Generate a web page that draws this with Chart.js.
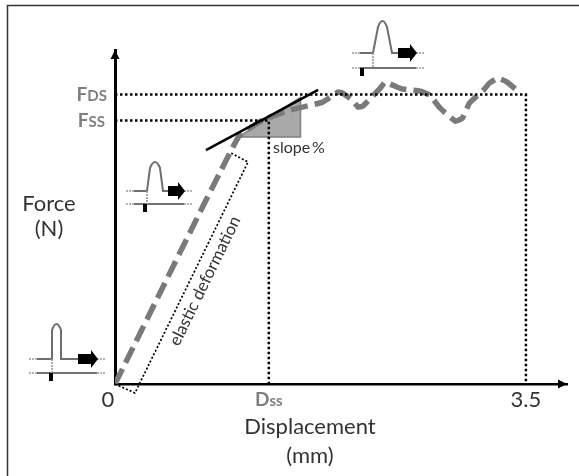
<!DOCTYPE html>
<html>
<head>
<meta charset="utf-8">
<title>Force vs displacement</title>
<script src="https://cdn.jsdelivr.net/npm/chart.js@4/dist/chart.umd.min.js"></script>
<style>
  html, body { margin: 0; padding: 0; background: #fff; }
  canvas { display: block; }
</style>
</head>
<body>
<canvas id="grafica" width="579" height="476"></canvas>
<script>
// Values (x in mm, force normalised to FDS = 1)
const Dss = 1.31;
const Dmax = 3.5;
const FDS = 1;
const FSS = 0.91;

const curveX = [0, 1.05, 1.26, 1.49, 1.77, 1.9, 1.94, 2.02, 2.07, 2.11, 2.26, 2.3, 2.4, 2.45, 2.6, 2.68, 2.77, 2.9, 2.96, 3.02, 3.14, 3.19, 3.26, 3.34, 3.45];
const curveY = [0, 0.853, 0.912, 0.946, 0.974, 1.009, 1.005, 0.981, 0.957, 0.96, 1.022, 1.043, 1.026, 1.019, 1.012, 0.998, 0.953, 0.908, 0.919, 0.971, 1.016, 1.04, 1.057, 1.043, 1.005];

const tangentX = [0.775, 1.73];
const tangentY = [0.808, 1.016];

const slopeX = [1.05, 1.58, 1.58, 1.05];
const slopeY = [0.853, 0.853, 0.99, 0.853];

const elasticX = [0, 0.17, 1.133, 0.988];
const elasticY = [0, -0.031, 0.767, 0.798];

const xTicks = [0, Dss, Dmax];
const xTickLabels = ['0', 'Dss', '3.5'];
const yTicks = [FSS, FDS];

function puntos(xs, ys) {
  return xs.map((x, i) => ({ x: x, y: ys[i] }));
}

// Small pulse sketch: baseline, bump, arrow and the lower marker line
function dibujarPulso(ctx, x0, x1, yBase, yLow, pulseL, pulseR, pulseTop, tickX, arrowL, arrowR, neck) {
  ctx.save();
  ctx.strokeStyle = '#6e6e6e';
  ctx.lineWidth = 2;
  ctx.beginPath();
  ctx.moveTo(x0 + 8, yBase);
  ctx.lineTo(pulseL, yBase);
  ctx.lineTo(pulseL + neck, pulseTop + 6);
  ctx.quadraticCurveTo((pulseL + pulseR) / 2, pulseTop - 6, pulseR - neck, pulseTop + 6);
  ctx.lineTo(pulseR, yBase);
  ctx.lineTo(arrowL, yBase);
  ctx.stroke();

  ctx.strokeStyle = '#444';
  ctx.lineWidth = 1.6;
  ctx.beginPath();
  ctx.moveTo(x0 + 8, yLow);
  ctx.lineTo(x1 - 8, yLow);
  ctx.stroke();

  // faded line ends
  ctx.strokeStyle = '#999';
  ctx.setLineDash([2, 1]);
  ctx.beginPath();
  ctx.moveTo(x0, yBase); ctx.lineTo(x0 + 8, yBase);
  ctx.moveTo(x1 - 8, yBase); ctx.lineTo(x1, yBase);
  ctx.moveTo(x0, yLow); ctx.lineTo(x0 + 8, yLow);
  ctx.moveTo(x1 - 8, yLow); ctx.lineTo(x1, yLow);
  ctx.moveTo(pulseL, yBase); ctx.lineTo(pulseL, yLow);
  ctx.stroke();
  ctx.setLineDash([]);

  ctx.fillStyle = '#000';
  ctx.fillRect(tickX - 2, yLow, 4, 8);

  // block arrow
  const mid = arrowR - 7;
  ctx.beginPath();
  ctx.moveTo(arrowL, yBase - 5);
  ctx.lineTo(mid, yBase - 5);
  ctx.lineTo(mid, yBase - 9);
  ctx.lineTo(arrowR, yBase);
  ctx.lineTo(mid, yBase + 9);
  ctx.lineTo(mid, yBase + 5);
  ctx.lineTo(arrowL, yBase + 5);
  ctx.closePath();
  ctx.fill();
  ctx.restore();
}

// Label with a big first letter and a smaller rest (FDS, FSS, Dss)
function dibujarEtiqueta(ctx, grande, chica, x, y, align) {
  ctx.save();
  ctx.fillStyle = '#7f7f7f';
  ctx.textBaseline = 'alphabetic';
  ctx.textAlign = 'left';
  ctx.font = 'bold 19px Lato';
  const w1 = ctx.measureText(grande).width;
  ctx.font = 'bold 15px Lato';
  const w2 = ctx.measureText(chica).width;
  const inicio = align === 'right' ? x - w1 - w2 : x - (w1 + w2) / 2;
  ctx.font = 'bold 19px Lato';
  ctx.fillText(grande, inicio, y + 6);
  ctx.font = 'bold 15px Lato';
  ctx.fillText(chica, inicio + w1, y + 6);
  ctx.restore();
}

const extras = {
  id: 'extras',
  afterDraw(chart) {
    const ctx = chart.ctx;
    const sx = chart.scales.x;
    const sy = chart.scales.y;
    const x0 = sx.getPixelForValue(0);
    const y0 = sy.getPixelForValue(0);

    // outer frame, open to the right and bottom of the window
    ctx.save();
    ctx.strokeStyle = '#333';
    ctx.lineWidth = 1.5;
    ctx.strokeRect(7.5, 5.5, 640, 600);

    // axis arrow heads
    ctx.fillStyle = '#000';
    ctx.beginPath();
    ctx.moveTo(x0, sy.top);
    ctx.lineTo(x0 - 4.5, sy.top + 9);
    ctx.lineTo(x0 + 4.5, sy.top + 9);
    ctx.closePath();
    ctx.fill();
    ctx.beginPath();
    ctx.moveTo(sx.right, y0);
    ctx.lineTo(sx.right - 9, y0 - 4.5);
    ctx.lineTo(sx.right - 9, y0 + 4.5);
    ctx.closePath();
    ctx.fill();

    // texts
    ctx.fillStyle = '#333';
    ctx.textAlign = 'center';
    ctx.textBaseline = 'middle';
    ctx.font = '22px Lato';
    ctx.fillText('Force', 49, 204);
    ctx.fillText('(N)', 49, 229);
    ctx.fillText('Displacement', 310, 427);
    ctx.fillText('(mm)', 310, 456);

    // tick labels 0 and 3.5
    ctx.fillText(xTickLabels[0], sx.getPixelForValue(xTicks[0]) - 7, 400);
    ctx.fillText(xTickLabels[2], sx.getPixelForValue(xTicks[2]), 400);

    ctx.font = '16px Lato';
    ctx.textAlign = 'left';
    ctx.fillText('slope', 273, 148);
    ctx.fillText('%', 312, 148);

    ctx.save();
    ctx.translate(205, 281);
    ctx.rotate(-64 * Math.PI / 180);
    ctx.textAlign = 'center';
    ctx.font = '16.8px Lato';
    ctx.fillText('elastic deformation', 0, 0);
    ctx.restore();
    ctx.restore();

    dibujarEtiqueta(ctx, 'F', 'DS', 107, sy.getPixelForValue(FDS), 'right');
    dibujarEtiqueta(ctx, 'F', 'SS', 105, sy.getPixelForValue(FSS), 'right');
    dibujarEtiqueta(ctx, 'D', 'ss', sx.getPixelForValue(Dss), 400, 'center');

    dibujarPulso(ctx, 29, 105, 359, 373, 52, 61, 324, 51, 78, 98, 0);
    dibujarPulso(ctx, 126, 192, 191, 204, 147, 163, 162, 145, 168, 185, 3);
    dibujarPulso(ctx, 352, 424, 53, 68, 373, 392, 21, 362, 398, 417, 5);
  }
};

new Chart(document.getElementById('grafica'), {
  type: 'scatter',
  data: {
    datasets: [
      {
        // grey triangle under the tangent
        data: puntos(slopeX, slopeY),
        showLine: true,
        pointRadius: 0,
        borderColor: '#7f7f7f',
        borderWidth: 1.5,
        backgroundColor: '#a9a9a9',
        fill: 'shape',
        order: 5
      },
      {
        // force curve
        data: puntos(curveX, curveY),
        showLine: true,
        pointRadius: 0,
        borderColor: '#7a7a7a',
        borderWidth: 5.5,
        borderDash: [17, 7],
        tension: 0.12,
        fill: false,
        order: 4
      },
      {
        data: puntos(tangentX, tangentY),
        showLine: true,
        pointRadius: 0,
        borderColor: '#000',
        borderWidth: 2.5,
        fill: false,
        order: 3
      },
      {
        // elastic region box
        data: puntos(elasticX, elasticY),
        showLine: true,
        pointRadius: 0,
        borderColor: '#000',
        borderWidth: 1.7,
        borderDash: [2, 2],
        fill: false,
        clip: false,
        order: 2
      },
      {
        // FDS guide down to 3.5
        data: puntos([0, Dmax, Dmax], [FDS, FDS, 0]),
        showLine: true,
        pointRadius: 0,
        borderColor: '#000',
        borderWidth: 2.5,
        borderDash: [2.5, 2.5],
        fill: false,
        order: 1
      },
      {
        // FSS guide down to Dss
        data: puntos([0, Dss, Dss], [FSS, FSS, 0]),
        showLine: true,
        pointRadius: 0,
        borderColor: '#000',
        borderWidth: 2.5,
        borderDash: [2.5, 2.5],
        fill: false,
        order: 1
      }
    ]
  },
  options: {
    responsive: false,
    animation: false,
    layout: { padding: { top: 50, right: 12, left: 0, bottom: 0 } },
    plugins: { legend: { display: false }, tooltip: { enabled: false } },
    scales: {
      x: {
        type: 'linear',
        min: 0,
        max: 3.85,
        afterBuildTicks(scale) { scale.ticks = xTicks.map(v => ({ value: v })); },
        afterFit(scale) { scale.height = 92; },
        grid: { display: false },
        border: { color: '#000', width: 2.5 },
        ticks: { display: false }
      },
      y: {
        type: 'linear',
        min: 0,
        max: 1.154,
        afterBuildTicks(scale) { scale.ticks = yTicks.map(v => ({ value: v })); },
        afterFit(scale) { scale.width = 115; },
        grid: { display: false },
        border: { color: '#000', width: 3 },
        ticks: { display: false }
      }
    }
  },
  plugins: [extras]
});
</script>
</body>
</html>
